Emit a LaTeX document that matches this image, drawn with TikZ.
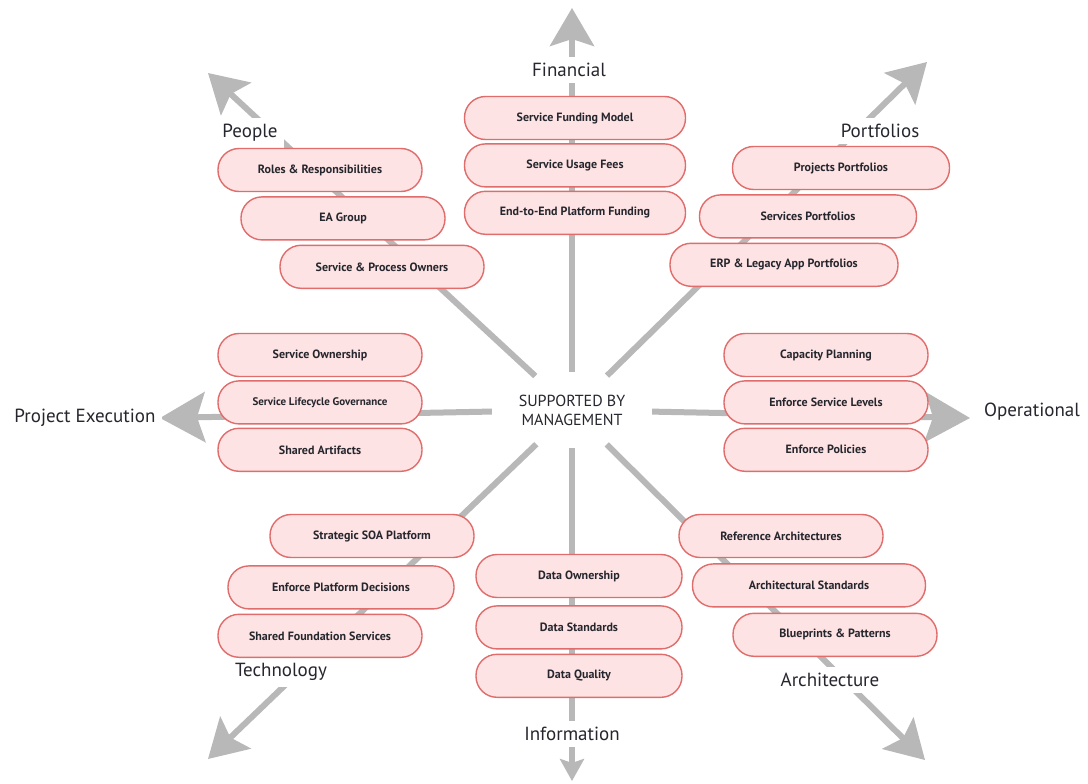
\documentclass[tikz,border=0pt]{standalone}
\usepackage{fontspec}
\setmainfont{PT Sans}
\usetikzlibrary{arrows.meta, positioning, backgrounds, shapes.geometric}
\definecolor{spokegray}{HTML}{B8B8B8}
\definecolor{boxred}{HTML}{E06C6C}
\definecolor{boxpink}{HTML}{FDE3E3}
\definecolor{labelink}{HTML}{26262E}

\begin{document}
\begin{tikzpicture}[
    x=1pt, y=-1pt,
    item/.style={rectangle, rounded corners=21pt, draw=boxred, line width=1.4pt, fill=boxpink, minimum width=204pt, minimum height=43pt, text=labelink, font=\fontsize{12}{14}\bfseries\selectfont},
    area/.style={fill=white, inner sep=6pt, text=labelink, font=\fontsize{19}{22}\selectfont},
    spoke/.style={draw=spokegray, line width=6pt, -{Stealth[length=38pt, width=44pt, inset=7pt]}}
]
\useasboundingbox (0,0) rectangle (1088,784);
\begin{scope}[on background layer]
\fill[white] (0,0) rectangle (1088,784);
\end{scope}

% Centre
\node[ellipse, minimum width=140pt, minimum height=76pt, align=center, text=labelink, font=\fontsize{16}{19}\selectfont] (mgmt) at (572,410) {SUPPORTED BY\\MANAGEMENT};

% People
\node[area] (people) at (250,133) {People};
\node[item] (roles) at (320,170) {Roles \& Responsibilities};
\node[item, below=4pt of roles, xshift=23pt] (eagroup) {EA Group};
\node[item, below=4pt of eagroup, xshift=39pt] (owners) {Service \& Process Owners};

% Financial
\node[area] (financial) at (569,70) {Financial};
\node[item, minimum width=221pt] (funding) at (575,118) {Service Funding Model};
\node[item, minimum width=221pt, below=3pt of funding] (fees) {Service Usage Fees};
\node[item, minimum width=221pt, below=3pt of fees] (platform) {End-to-End Platform Funding};

% Portfolios
\node[area] (portfolios) at (880,131) {Portfolios};
\node[item, minimum width=217pt] (projects) at (841,168) {Projects Portfolios};
\node[item, minimum width=217pt, below=4pt of projects, xshift=-33pt] (services) {Services Portfolios};
\node[item, minimum width=228pt, below=4pt of services, xshift=-24pt] (erp) {ERP \& Legacy App Portfolios};

% Project Execution
\node[area] (projexec) at (85,418) {Project Execution};
\node[item] (ownership) at (320,355) {Service Ownership};
\node[item, below=3pt of ownership, font=\fontsize{11}{13}\bfseries\selectfont] (lifecycle) {Service Lifecycle Governance};
\node[item, below=3pt of lifecycle] (artifacts) {Shared Artifacts};

% Operational
\node[area] (operational) at (1032,412) {Operational};
\node[item] (capacity) at (826,355) {Capacity Planning};
\node[item, below=3pt of capacity] (levels) {Enforce Service Levels};
\node[item, below=3pt of levels] (policies) {Enforce Policies};

% Technology
\node[area] (technology) at (281,672) {Technology};
\node[item] (strategic) at (372,536) {Strategic SOA Platform};
\node[item, minimum width=226pt, below=7pt of strategic, xshift=-31pt] (decisions) {Enforce Platform Decisions};
\node[item, below=4pt of decisions, xshift=-21pt] (foundation) {Shared Foundation Services};

% Information
\node[area] (information) at (572,734) {Information};
\node[item, minimum width=206pt] (dataown) at (579,576) {Data Ownership};
\node[item, minimum width=206pt, below=7pt of dataown] (datastd) {Data Standards};
\node[item, minimum width=206pt, below=4pt of datastd] (dataqual) {Data Quality};

% Architecture
\node[area] (architecture) at (830,680) {Architecture};
\node[item] (refarch) at (781,536) {Reference Architectures};
\node[item, minimum width=233pt, below=5pt of refarch, xshift=28pt] (archstd) {Architectural Standards};
\node[item, below=5pt of archstd, xshift=26pt] (blueprints) {Blueprints \& Patterns};

% Arrow tips
\coordinate (tipN) at (572,8);
\coordinate (tipS) at (572,781);
\coordinate (tipW) at (160,418);
\coordinate (tipE) at (970,418);
\coordinate (tipNW) at (208,73);
\coordinate (tipNE) at (927,62);
\coordinate (tipSW) at (208,759);
\coordinate (tipSE) at (925,760);

% Spokes
\begin{scope}[on background layer]
\draw[spoke] (mgmt) -- (tipN);
\draw[spoke, -{Stealth[length=22pt, width=24pt, inset=4pt]}] (mgmt) -- (tipS);
\draw[spoke, -{Stealth[length=45pt, width=50pt, inset=8pt]}] (mgmt) -- (tipW);
\draw[spoke, -{Stealth[length=45pt, width=50pt, inset=8pt]}] (mgmt) -- (tipE);
\draw[spoke] (mgmt) -- (tipNW);
\draw[spoke] (mgmt) -- (tipNE);
\draw[spoke] (mgmt) -- (tipSW);
\draw[spoke] (mgmt) -- (tipSE);
\end{scope}

\end{tikzpicture}
\end{document}
